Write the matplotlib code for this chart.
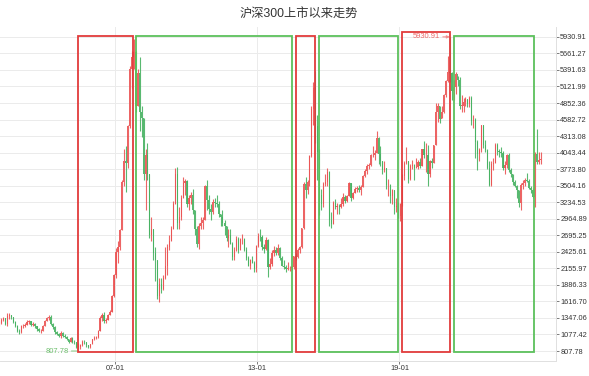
import numpy as np
import pandas as pd
import matplotlib
matplotlib.use("Agg")
import matplotlib.pyplot as plt
import matplotlib.dates as mdates
from matplotlib.patches import Rectangle

plt.rcParams['font.family'] = ['Liberation Sans', 'Noto Sans CJK SC', 'DejaVu Sans']

# --- Data: monthly candles, Feb 2002 .. Dec 2024 ---
first_open = 1240
closes = [
    # 2002 (Feb-Dec)
    1260, 1320, 1340, 1250, 1380, 1390, 1360, 1280, 1220, 1140, 1110,
    # 2003
    1210, 1220, 1240, 1280, 1290, 1240, 1250, 1210, 1160, 1130, 1140, 1220,
    # 2004
    1300, 1350, 1370, 1250, 1200, 1110, 1090, 1060, 1100, 1060, 1040, 1000,
    # 2005
    960, 1020, 960, 950, 880, 880, 900, 960, 950, 900, 870, 923,
    # 2006
    1000, 1020, 1030, 1140, 1350, 1390, 1290, 1320, 1400, 1450, 1700, 2041,
    # 2007
    2420, 2500, 2780, 3570, 3900, 3880, 4470, 5400, 5600, 5690, 4800, 5338,
    # 2008
    4700, 4600, 3700, 4000, 3700, 2700, 2800, 2400, 2300, 1700, 1900, 1818,
    # 2009
    2000, 2200, 2500, 2600, 2800, 3200, 3700, 2900, 3000, 3300, 3550, 3576,
    # 2010
    3200, 3300, 3350, 3100, 2800, 2560, 2850, 2900, 2940, 3500, 3270, 3128,
    # 2011
    3070, 3240, 3220, 3200, 3050, 3000, 2900, 2850, 2650, 2700, 2560, 2346,
    # 2012
    2450, 2630, 2460, 2630, 2630, 2460, 2330, 2200, 2290, 2250, 2140, 2523,
    # 2013
    2690, 2670, 2500, 2470, 2620, 2180, 2220, 2400, 2450, 2400, 2480, 2330,
    # 2014
    2200, 2180, 2150, 2160, 2160, 2170, 2350, 2340, 2450, 2510, 2810, 3534,
    # 2015
    3430, 3570, 3990, 4750, 5100, 4470, 4050, 3360, 3200, 3530, 3570, 3731,
    # 2016
    2950, 2880, 3220, 3160, 3170, 3150, 3200, 3320, 3250, 3340, 3540, 3310,
    # 2017
    3390, 3450, 3460, 3440, 3490, 3670, 3740, 3820, 3840, 4000, 4010, 4031,
    # 2018
    4280, 4020, 3900, 3760, 3800, 3510, 3520, 3330, 3440, 3150, 3170, 3011,
    # 2019
    3200, 3670, 3870, 3910, 3620, 3830, 3840, 3800, 3810, 3890, 3830, 4097,
    # 2020
    4000, 4000, 3690, 3910, 3870, 4160, 4700, 4810, 4590, 4700, 4980, 5211,
    # 2021
    5350, 5340, 5050, 5120, 5330, 5220, 4810, 4810, 4870, 4910, 4830, 4940,
    # 2022
    4560, 4580, 4220, 4020, 4090, 4490, 4170, 4080, 3800, 3510, 3850, 3872,
    # 2023
    4160, 4070, 4050, 4030, 3800, 3840, 4000, 3760, 3690, 3570, 3500, 3431,
    # 2024
    3220, 3520, 3540, 3600, 3580, 3460, 3440, 3320, 4020, 3890, 3920, 3935,
]
highs = [
    1290, 1340, 1370, 1350, 1420, 1420, 1400, 1370, 1290, 1230, 1160,
    1230, 1250, 1260, 1310, 1320, 1300, 1280, 1260, 1220, 1180, 1170, 1230,
    1310, 1370, 1400, 1390, 1270, 1210, 1130, 1100, 1130, 1110, 1090, 1050,
    1010, 1040, 1030, 990, 960, 940, 920, 980, 990, 950, 910, 930,
    1010, 1050, 1050, 1150, 1380, 1420, 1440, 1340, 1410, 1470, 1720, 2060,
    2490, 2600, 2800, 3600, 4100, 4150, 4500, 5450, 5700, 5890, 5700, 5400,
    5600, 4800, 4600, 4100, 4200, 3700, 3000, 2800, 2500, 2300, 2000, 2000,
    2050, 2500, 2550, 2700, 2850, 3250, 3800, 3803, 3150, 3350, 3650, 3620,
    3600, 3350, 3400, 3450, 3100, 2850, 2900, 2990, 3000, 3520, 3600, 3350,
    3200, 3280, 3300, 3350, 3250, 3050, 3100, 2950, 2850, 2800, 2800, 2580,
    2500, 2680, 2660, 2650, 2710, 2650, 2500, 2350, 2310, 2350, 2270, 2540,
    2730, 2790, 2700, 2550, 2670, 2630, 2330, 2450, 2520, 2500, 2550, 2500,
    2350, 2290, 2210, 2260, 2190, 2200, 2360, 2400, 2480, 2520, 2820, 3560,
    3650, 3600, 4000, 4800, 5200, 5380, 4650, 4100, 3450, 3560, 3690, 3800,
    3750, 3080, 3250, 3290, 3220, 3210, 3300, 3380, 3350, 3360, 3560, 3550,
    3400, 3480, 3500, 3510, 3510, 3680, 3770, 3850, 3870, 4020, 4150, 4080,
    4403, 4300, 4150, 3900, 3900, 3800, 3610, 3530, 3450, 3440, 3300, 3230,
    3220, 3700, 3900, 4127, 3900, 3850, 3930, 3860, 3950, 3920, 3960, 4110,
    4230, 4200, 4170, 3930, 3950, 4170, 4850, 4850, 4800, 4810, 5000, 5230,
    5620, 5930.91, 5350, 5220, 5360, 5300, 5280, 4980, 4940, 4950, 4920, 4960,
    4960, 4660, 4600, 4250, 4120, 4500, 4500, 4250, 4110, 3900, 3900, 3950,
    4200, 4200, 4100, 4130, 4070, 3900, 4020, 4030, 3800, 3700, 3600, 3520,
    3440, 3550, 3600, 3630, 3710, 3620, 3500, 3460, 4050, 4435, 4060, 4060,
]
lows = [
    1220, 1250, 1300, 1230, 1220, 1330, 1330, 1260, 1200, 1120, 1080,
    1100, 1190, 1200, 1230, 1250, 1220, 1220, 1190, 1140, 1110, 1100, 1130,
    1210, 1290, 1320, 1230, 1170, 1090, 1070, 1040, 1020, 1040, 1020, 980,
    940, 950, 940, 920, 860, 807.78, 840, 890, 930, 880, 850, 860,
    920, 990, 1000, 1020, 1140, 1290, 1260, 1270, 1310, 1390, 1440, 1690,
    2000, 2240, 2450, 2780, 3500, 3400, 3800, 4450, 5100, 5400, 4700, 4800,
    4400, 4300, 3600, 3100, 3600, 2650, 2600, 2300, 1950, 1650, 1607, 1750,
    1800, 1980, 2050, 2450, 2600, 2800, 3200, 2800, 2800, 2950, 3300, 3350,
    3150, 3100, 3200, 3050, 2700, 2500, 2470, 2800, 2800, 2950, 3100, 3050,
    2950, 3050, 3150, 3150, 3000, 2850, 2850, 2700, 2600, 2500, 2550, 2300,
    2300, 2440, 2400, 2450, 2560, 2440, 2300, 2190, 2150, 2240, 2100, 2100,
    2500, 2600, 2450, 2400, 2450, 2023, 2150, 2200, 2350, 2370, 2380, 2300,
    2190, 2150, 2090, 2130, 2120, 2130, 2150, 2300, 2330, 2400, 2480, 2800,
    3300, 3370, 3500, 3980, 4500, 4200, 3600, 3020, 3100, 3150, 3500, 3500,
    2840, 2820, 2880, 3120, 3050, 3050, 3140, 3180, 3220, 3240, 3330, 3250,
    3280, 3380, 3400, 3400, 3350, 3480, 3640, 3700, 3780, 3830, 3980, 3930,
    4030, 3850, 3830, 3700, 3730, 3450, 3330, 3220, 3200, 3050, 3080, 2980,
    2935, 3180, 3600, 3850, 3550, 3600, 3780, 3600, 3790, 3770, 3800, 3830,
    3950, 3720, 3500, 3650, 3800, 3880, 4160, 4550, 4520, 4600, 4690, 4950,
    5200, 5200, 4900, 4900, 5000, 5130, 4750, 4700, 4710, 4800, 4780, 4780,
    4500, 4450, 3950, 3760, 3900, 4050, 4120, 4050, 3780, 3495, 3500, 3760,
    3870, 4000, 3980, 3980, 3760, 3700, 3790, 3720, 3650, 3520, 3490, 3310,
    3150, 3108, 3450, 3500, 3560, 3450, 3380, 3300, 3150, 3850, 3850, 3860,
]
opens = [first_open] + closes[:-1]
months = pd.date_range('2002-02-01', '2024-12-01', freq='MS') + pd.Timedelta(days=14)

ytick_vals = [807.78, 1077.42, 1347.06, 1616.70, 1886.33, 2155.97, 2425.61,
              2695.25, 2964.89, 3234.53, 3504.16, 3773.80, 4043.44, 4313.08,
              4582.72, 4852.36, 5121.99, 5391.63, 5661.27, 5930.91]
xtick_dates = ['2007-01-01', '2013-01-01', '2019-01-01']
xtick_labels = ['07-01', '13-01', '19-01']

# phases: (start, end, top, kind)  red = bull, green = bear
phases = [
    ('2005-06-07', '2007-10-01', 5940, 'up'),
    ('2007-11-20', '2014-06-20', 5940, 'down'),
    ('2014-08-22', '2015-06-10', 5940, 'up'),
    ('2015-08-18', '2018-12-10', 5940, 'down'),
    ('2019-02-06', '2021-02-20', 6005, 'up'),
    ('2021-04-20', '2024-09-05', 5940, 'down'),
]
low_date, low_val = '2005-06-15', 807.78
high_date, high_val = '2021-02-15', 5930.91

UP = '#eb5454'
DOWN = '#47b262'

# --- Figure ---
fig = plt.figure(figsize=(5.89, 3.76), dpi=100)
ax = fig.add_axes([0, 15 / 376, 556 / 589, 334 / 376])

x = mdates.date2num(months.to_pydatetime())
o = np.array(opens, dtype=float)
c = np.array(closes, dtype=float)
h = np.array(highs, dtype=float)
l = np.array(lows, dtype=float)
cols = np.where(c >= o, UP, DOWN)

ax.vlines(x, l, h, colors=cols, lw=0.8, alpha=0.9, zorder=3)
body_bottom = np.minimum(o, c)
body_h = np.maximum(np.abs(c - o), 8)
ax.bar(x, body_h, bottom=body_bottom, width=18, color=cols, alpha=0.9,
       linewidth=0, zorder=3)

# phase boxes
for start, end, top, kind in phases:
    x0 = mdates.datestr2num(start)
    x1 = mdates.datestr2num(end)
    color = '#e23b3b' if kind == 'up' else '#5cc05c'
    ax.add_patch(Rectangle((x0, 790), x1 - x0, top - 790, fill=False,
                           edgecolor=color, lw=1.3, zorder=4))

# min / max markers
ax.annotate('807.78', xy=(mdates.datestr2num(low_date), low_val),
            xytext=(-7, 0), textcoords='offset points', ha='right',
            va='center', fontsize=5.4, color='#6cbf6c',
            arrowprops=dict(arrowstyle='-', color='#8fd08f', lw=0.8,
                            shrinkA=0, shrinkB=0))
ax.annotate('5930.91', xy=(mdates.datestr2num(high_date), high_val),
            xytext=(-7, 0), textcoords='offset points', ha='right',
            va='center', fontsize=5.4, color='#ee6a6a',
            arrowprops=dict(arrowstyle='-|>', color='#f09090', lw=0.8,
                            mutation_scale=4, shrinkA=0, shrinkB=0))

# --- Axes styling ---
ax.set_xlim(mdates.datestr2num('2002-02-23'), mdates.datestr2num('2025-08-10'))
ax.set_ylim(645, 6092)

ax.yaxis.tick_right()
ax.set_yticks(ytick_vals)
ax.set_yticklabels([f"{v:.2f}" for v in ytick_vals])
ax.set_xticks([mdates.datestr2num(d) for d in xtick_dates])
ax.set_xticklabels(xtick_labels)
ax.tick_params(axis='both', labelsize=5.3, colors='#666666', length=2,
               width=0.6, pad=1)
ax.tick_params(axis='y', labelcolor='#333333')
ax.tick_params(axis='x', labelcolor='#333333', length=2, pad=1)

ax.grid(True, color='#ebebeb', lw=0.7, zorder=0)
for side in ['left', 'top']:
    ax.spines[side].set_visible(False)
for side in ['right', 'bottom']:
    ax.spines[side].set_color('#e0e0e0')
    ax.spines[side].set_linewidth(0.7)

fig.text(299 / 589, 1 - 14 / 376, '沪深300上市以来走势', ha='center', va='center',
         fontsize=8.8, color='#333333')

fig.savefig('out.png', dpi=100)
